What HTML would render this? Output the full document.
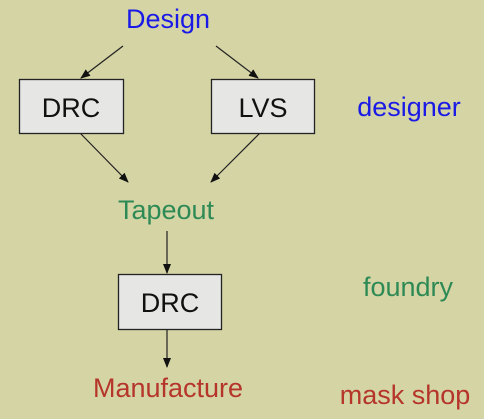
<!DOCTYPE html>
<html><head><style>
body{margin:0;background:#d5d4a5;}
svg{display:block}
text{font-family:"Liberation Sans",sans-serif;font-size:27px}
</style></head><body>
<svg width="484" height="419" viewBox="0 0 484 419">
<defs><marker id="a" markerWidth="10" markerHeight="8" refX="9" refY="4" orient="auto" markerUnits="userSpaceOnUse"><path d="M0,0 L10,4 L0,8 z" fill="#111"/></marker></defs>
<rect width="484" height="419" fill="#d5d4a5"/>
<g stroke="#222" stroke-width="1.2" marker-end="url(#a)">
<line x1="123" y1="46" x2="81" y2="78"/>
<line x1="216" y1="46" x2="258" y2="78"/>
<line x1="80" y1="133" x2="128" y2="182"/>
<line x1="260" y1="133" x2="211" y2="182"/>
<line x1="167" y1="231" x2="167" y2="273"/>
<line x1="167" y1="329" x2="167" y2="367"/>
</g>
<g fill="#e6e6e4" stroke="#222" stroke-width="1.3">
<rect x="19.5" y="79.5" width="104" height="54"/>
<rect x="211.5" y="79.5" width="103" height="54"/>
<rect x="118.5" y="274.5" width="103" height="55"/>
</g>
<g fill="#111" text-anchor="middle">
<text x="71" y="117">DRC</text>
<text x="263" y="117">LVS</text>
<text x="170" y="312">DRC</text>
</g>
<text x="168" y="28" fill="#1a1ae6" text-anchor="middle">Design</text>
<text x="409" y="116" fill="#1a1ae6" text-anchor="middle">designer</text>
<text x="166" y="219" fill="#2e8a55" text-anchor="middle">Tapeout</text>
<text x="408" y="296" fill="#2e8a55" text-anchor="middle">foundry</text>
<text x="168" y="397" fill="#b5352a" text-anchor="middle">Manufacture</text>
<text x="405" y="404" fill="#b5352a" text-anchor="middle">mask shop</text>
</svg>
</body></html>
